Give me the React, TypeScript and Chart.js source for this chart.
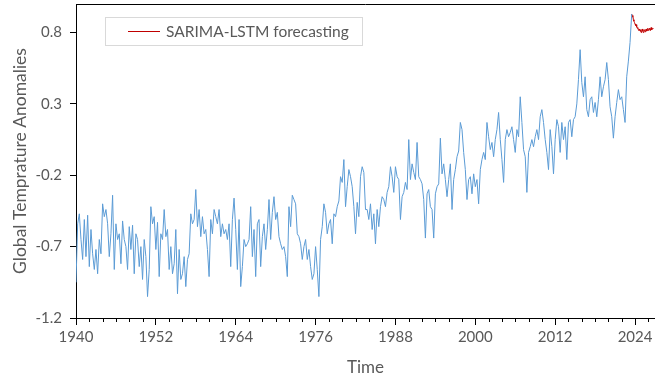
import React, { useEffect, useRef } from "react";
import { Chart, registerables } from "chart.js";

Chart.register(...registerables);

// ---- data -----------------------------------------------------------------
const START_YEAR = 1940;
const STEPS_PER_YEAR = 4; // quarterly readings of the observed series

// Observed global temperature anomalies (quarterly, 1940 Q1 .. 2023 Q3)
const observed: number[] = [
  -0.95, -0.54, -0.47, -0.65, // 1940
  -0.79, -0.51, -0.77, -0.48, // 1941
  -0.84, -0.58, -0.75, -0.86, // 1942
  -0.72, -0.89, -0.65, -0.75, // 1943
  -0.40, -0.49, -0.44, -0.54, // 1944
  -0.77, -0.61, -0.34, -0.86, // 1945
  -0.54, -0.65, -0.61, -0.82, // 1946
  -0.52, -0.65, -0.70, -0.86, // 1947
  -0.56, -0.72, -0.55, -0.89, // 1948
  -0.61, -0.65, -0.84, -0.70, // 1949
  -0.93, -0.65, -0.77, -1.05, // 1950
  -0.86, -0.42, -0.54, -0.49, // 1951
  -0.72, -0.53, -0.91, -0.61, // 1952
  -0.65, -0.44, -0.63, -0.58, // 1953
  -0.86, -0.70, -0.89, -0.82, // 1954
  -0.58, -1.03, -0.72, -0.93, // 1955
  -0.89, -0.77, -0.98, -0.79, // 1956
  -0.75, -0.47, -0.54, -0.51, // 1957
  -0.30, -0.56, -0.44, -0.63, // 1958
  -0.49, -0.61, -0.58, -0.72, // 1959
  -0.91, -0.51, -0.61, -0.44, // 1960
  -0.49, -0.54, -0.44, -0.63, // 1961
  -0.54, -0.61, -0.58, -0.65, // 1962
  -0.54, -0.84, -0.51, -0.36, // 1963
  -0.58, -0.86, -0.51, -0.98, // 1964
  -0.84, -0.65, -0.70, -0.68, // 1965
  -0.65, -0.42, -0.77, -0.58, // 1966
  -0.91, -0.54, -0.51, -0.84, // 1967
  -0.63, -0.54, -0.72, -0.58, // 1968
  -0.37, -0.65, -0.46, -0.35, // 1969
  -0.51, -0.46, -0.63, -0.68, // 1970
  -0.72, -0.70, -0.77, -0.91, // 1971
  -0.42, -0.56, -0.34, -0.37, // 1972
  -0.40, -0.61, -0.63, -0.68, // 1973
  -0.79, -0.70, -0.65, -0.79, // 1974
  -0.72, -0.84, -0.93, -0.89, // 1975
  -0.70, -0.86, -1.05, -0.65, // 1976
  -0.56, -0.40, -0.46, -0.61, // 1977
  -0.54, -0.51, -0.68, -0.47, // 1978
  -0.49, -0.42, -0.38, -0.21, // 1979
  -0.25, -0.09, -0.42, -0.28, // 1980
  -0.16, -0.21, -0.28, -0.42, // 1981
  -0.61, -0.39, -0.49, -0.21, // 1982
  -0.14, -0.18, -0.44, -0.44, // 1983
  -0.51, -0.40, -0.58, -0.47, // 1984
  -0.68, -0.44, -0.56, -0.42, // 1985
  -0.35, -0.37, -0.42, -0.32, // 1986
  -0.28, -0.14, -0.21, -0.32, // 1987
  -0.14, -0.21, -0.23, -0.51, // 1988
  -0.35, -0.32, -0.25, -0.30, // 1989
  0.05, -0.23, -0.12, -0.18, // 1990
  -0.23, 0.03, -0.21, -0.23, // 1991
  -0.26, -0.37, -0.64, -0.33, // 1992
  -0.30, -0.42, -0.44, -0.64, // 1993
  -0.33, -0.28, -0.26, 0.06, // 1994
  -0.19, -0.12, -0.23, -0.35, // 1995
  -0.23, -0.12, -0.44, -0.23, // 1996
  -0.16, -0.07, -0.03, 0.17, // 1997
  0.12, -0.04, -0.16, -0.37, // 1998
  -0.23, -0.21, -0.33, -0.19, // 1999
  -0.28, -0.23, -0.40, -0.16, // 2000
  -0.09, -0.04, -0.09, 0.17, // 2001
  0.07, -0.02, 0.03, -0.07, // 2002
  0.05, 0.12, 0.24, 0.05, // 2003
  -0.09, -0.25, 0.05, 0.12, // 2004
  0.07, 0.10, 0.14, 0.05, // 2005
  -0.04, 0.12, 0.07, 0.35, // 2006
  0.17, -0.02, -0.07, -0.32, // 2007
  -0.04, 0.00, 0.05, 0.00, // 2008
  0.07, 0.12, 0.05, 0.21, // 2009
  0.26, 0.17, 0.05, -0.04, // 2010
  -0.16, 0.12, 0.00, -0.19, // 2011
  0.05, 0.19, 0.14, -0.04, // 2012
  0.17, 0.05, 0.14, -0.09, // 2013
  0.17, 0.19, 0.07, 0.19, // 2014
  0.21, 0.30, 0.47, 0.68, // 2015
  0.45, 0.35, 0.49, 0.26, // 2016
  0.21, 0.33, 0.35, 0.24, // 2017
  0.31, 0.21, 0.33, 0.49, // 2018
  0.35, 0.42, 0.47, 0.59, // 2019
  0.47, 0.28, 0.21, 0.06, // 2020
  0.21, 0.31, 0.40, 0.33, // 2021
  0.35, 0.26, 0.17, 0.49, // 2022
  0.60, 0.73, 0.93, // 2023
];

// SARIMA-LSTM forecast (monthly, from mid-2023)
const FORECAST_START = 2023.5;
const FORECAST_STEPS_PER_YEAR = 12;
const forecast: number[] = [
  0.93, 0.91, 0.92, 0.89, 0.88, 0.87, 0.86, 0.85, 0.855, 0.84,
  0.83, 0.835, 0.82, 0.815, 0.825, 0.81, 0.82, 0.80, 0.815, 0.825,
  0.81, 0.80, 0.815, 0.82, 0.805, 0.81, 0.825, 0.81, 0.815, 0.83,
  0.815, 0.82, 0.83, 0.815, 0.825, 0.835, 0.82, 0.825, 0.83, 0.825,
];

const X_MIN = 1940;
const X_MAX = 2027;
const X_TICKS = [1940, 1952, 1964, 1976, 1988, 2000, 2012, 2024];
const X_MINOR_STEP = 2;
const Y_MIN = -1.2;
const Y_MAX = 1.0;
const Y_TICKS = [-1.2, -0.7, -0.2, 0.3, 0.8];

const SERIES_LABEL = "SARIMA-LSTM forecasting";
const X_TITLE = "Time";
const Y_TITLE = "Global Temprature Anomalies";

// ---- styling --------------------------------------------------------------
const W = 655;
const H = 379;
const FONT = "Lato, 'Open Sans', sans-serif";
const TEXT = "#595959";
const BLUE = "#5b9bd5";
const RED = "#c00000";

const framePlugin = {
  id: "frameAndLegend",
  afterDraw(chart: any) {
    const { ctx, chartArea, scales } = chart;
    const left = Math.round(chartArea.left);
    const right = Math.round(chartArea.right);
    const top = Math.round(chartArea.top);
    const bottom = Math.round(chartArea.bottom);
    const x = scales.x;
    ctx.save();
    ctx.globalAlpha = 1;
    ctx.setLineDash([]);
    // top frame line
    ctx.strokeStyle = "#000000";
    ctx.lineWidth = 1;
    ctx.beginPath();
    ctx.moveTo(left, top + 0.5);
    ctx.lineTo(right, top + 0.5);
    ctx.stroke();
    // minor ticks
    ctx.beginPath();
    for (let yr = X_MIN + X_MINOR_STEP; yr <= x.max; yr += X_MINOR_STEP) {
      if (X_TICKS.includes(yr)) continue;
      const px = Math.round(x.getPixelForValue(yr)) + 0.5;
      ctx.moveTo(px, bottom);
      ctx.lineTo(px, bottom + 4);
    }
    ctx.stroke();
    // legend box
    const lx = left + 29;
    const ly = top + 13;
    const lw = 257;
    const lh = 28;
    ctx.fillStyle = "#ffffff";
    ctx.fillRect(lx, ly, lw, lh);
    ctx.strokeStyle = "#d9d9d9";
    ctx.strokeRect(lx + 0.5, ly + 0.5, lw, lh);
    ctx.fillStyle = RED;
    ctx.fillRect(lx + 23, ly + 14, 32, 1);
    ctx.fillStyle = TEXT;
    ctx.font = `15.5px ${FONT}`;
    ctx.textBaseline = "middle";
    ctx.textAlign = "left";
    ctx.fillText(SERIES_LABEL, lx + 61, ly + 15);
    ctx.restore();
  },
};

export default function App() {
  const ref = useRef<HTMLCanvasElement | null>(null);

  useEffect(() => {
    if (!ref.current) return;
    const obsPoints = observed.map((v, i) => ({ x: START_YEAR + i / STEPS_PER_YEAR, y: v }));
    const fcPoints = forecast.map((v, i) => ({
      x: FORECAST_START + i / FORECAST_STEPS_PER_YEAR,
      y: v,
    }));
    const chart = new Chart(ref.current, {
      type: "line",
      data: {
        datasets: [
          {
            label: "Observed",
            data: obsPoints,
            borderColor: BLUE,
            borderWidth: 1,
            pointRadius: 0,
            tension: 0,
          },
          {
            label: SERIES_LABEL,
            data: fcPoints,
            borderColor: RED,
            borderWidth: 1,
            pointRadius: 0,
            tension: 0,
          },
        ],
      },
      options: {
        animation: false,
        responsive: false,
        devicePixelRatio: 1,
        layout: { padding: { top: 4, right: 0, bottom: 0, left: 0 } },
        plugins: {
          legend: { display: false },
          tooltip: { enabled: false },
        },
        scales: {
          x: {
            type: "linear",
            min: X_MIN,
            max: X_MAX,
            afterBuildTicks: (scale: any) => {
              scale.ticks = X_TICKS.map((v) => ({ value: v }));
            },
            afterFit: (scale: any) => {
              scale.height = 61;
              scale.paddingLeft = 0;
              scale.paddingRight = 0;
            },
            grid: {
              display: true,
              drawOnChartArea: false,
              drawTicks: true,
              tickLength: 7,
              tickColor: "#000",
            },
            border: { display: true, color: "#000", width: 1 },
            ticks: {
              color: TEXT,
              font: { family: FONT, size: 15 },
              padding: 3,
              maxRotation: 0,
              autoSkip: false,
              callback: (v: any) => String(v),
            },
            title: {
              display: true,
              text: X_TITLE,
              color: TEXT,
              font: { family: FONT, size: 17 },
              padding: { top: 0, bottom: 1 },
            },
          },
          y: {
            type: "linear",
            min: Y_MIN,
            max: Y_MAX,
            afterBuildTicks: (scale: any) => {
              scale.ticks = Y_TICKS.map((v) => ({ value: v }));
            },
            afterFit: (scale: any) => {
              scale.width = 76;
              scale.paddingTop = 0;
              scale.paddingBottom = 0;
            },
            grid: {
              display: true,
              drawOnChartArea: false,
              drawTicks: true,
              tickLength: 6,
              tickColor: "#000",
            },
            border: { display: true, color: "#000", width: 1 },
            ticks: {
              color: TEXT,
              font: { family: FONT, size: 15 },
              padding: 8,
              callback: (v: any) => Number(v).toFixed(1),
            },
            title: {
              display: true,
              text: Y_TITLE,
              color: TEXT,
              font: { family: FONT, size: 17.5 },
              padding: { top: 10, bottom: 0 },
            },
          },
        },
      },
      plugins: [framePlugin],
    });
    return () => chart.destroy();
  }, []);

  return (
    <div style={{ position: "fixed", left: 0, top: 0, width: W, height: H, background: "#fff" }}>
      <canvas ref={ref} width={W} height={H} style={{ display: "block" }} />
    </div>
  );
}
